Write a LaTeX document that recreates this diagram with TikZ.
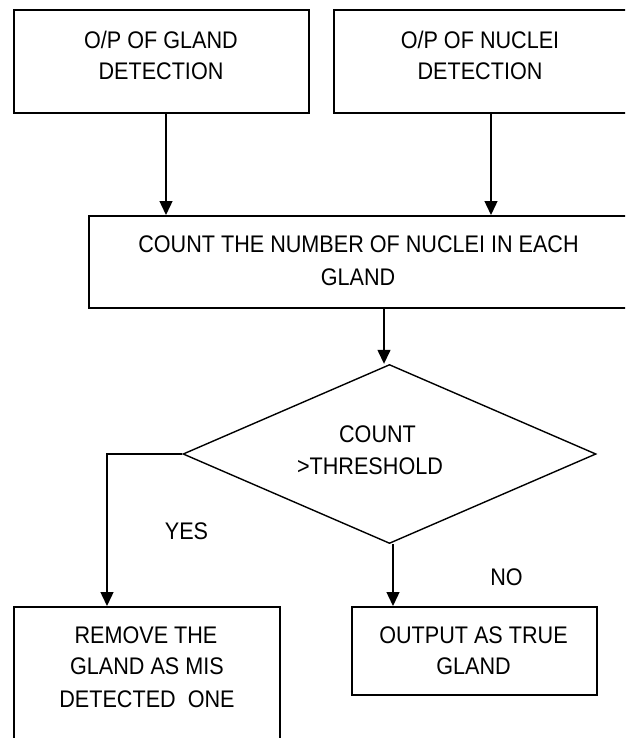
\documentclass[tikz,border=0pt]{standalone}
\usepackage{fontspec}
\setmainfont{Liberation Sans}[FakeStretch=0.9]
\usetikzlibrary{shapes.geometric,arrows.meta}
\begin{document}
\begin{tikzpicture}[x=1pt,y=-1pt,
  box/.style={draw=black, line width=1.6pt, rectangle, inner sep=0pt, anchor=north west},
  dia/.style={draw=black, line width=1.4pt, diamond, inner sep=0pt, minimum width=413pt, minimum height=179pt},
  lbl/.style={anchor=base, inner sep=0pt, font=\fontsize{24}{32}\selectfont},
  arr/.style={draw=black, line width=1.4pt, -{Triangle[width=13pt,length=14pt]}}]
\useasboundingbox (0,0) rectangle (625,738);
\clip (0,0) rectangle (625,738);
% boxes
\node[box, minimum width=295pt, minimum height=102.5pt] (b1) at (13,9.5) {};
\node[box, minimum width=300pt, minimum height=102.5pt] (b2) at (333,9.5) {};
\node[box, minimum width=545pt, minimum height=92pt] (b3) at (88,215) {};
\node[dia] (d) at (389.5,454) {};
\node[box, minimum width=266pt, minimum height=160pt] (b4) at (13,606) {};
\node[box, minimum width=245pt, minimum height=88pt] (b5) at (351,606) {};
% texts
\node[lbl] (t1a) at (161,48.5) {O/P OF GLAND};
\node[lbl] (t1b) at (161,79.5) {DETECTION};
\node[lbl] (t2a) at (480,48.5) {O/P OF NUCLEI};
\node[lbl] (t2b) at (480,79.5) {DETECTION};
\node[lbl] (t3a) at (358.5,252.7) {COUNT THE NUMBER OF NUCLEI IN EACH};
\node[lbl] (t3b) at (358,285.7) {GLAND};
\node[lbl] (tda) at (377.5,442) {COUNT};
\node[lbl] (tdb) at (370,474) {>THRESHOLD};
\node[lbl] (tyes) at (186.5,539) {YES};
\node[lbl] (tno) at (506.5,585) {NO};
\node[lbl] (t4a) at (146,643) {REMOVE THE};
\node[lbl] (t4b) at (147,674) {GLAND AS MIS};
\node[lbl] (t4c) at (147,707) {DETECTED\ \ ONE};
\node[lbl] (t5a) at (473.5,643) {OUTPUT AS TRUE};
\node[lbl] (t5b) at (473.5,674) {GLAND};
% connector x positions
\coordinate (x1) at (166,0);
\coordinate (x2) at (491,0);
\coordinate (x3) at (384,0);
\coordinate (x4) at (107,0);
\coordinate (x5) at (393,0);
% connectors
\draw[arr] (x1 |- b1.south) -- (x1 |- b3.north);
\draw[arr] (x2 |- b2.south) -- (x2 |- b3.north);
\draw[arr] (x3 |- b3.south) -- (x3 |- d.north);
\draw[arr] (d.west) -| (x4 |- b4.north);
\draw[arr] (x5 |- d.south) -- (x5 |- b5.north);
\end{tikzpicture}
\end{document}
